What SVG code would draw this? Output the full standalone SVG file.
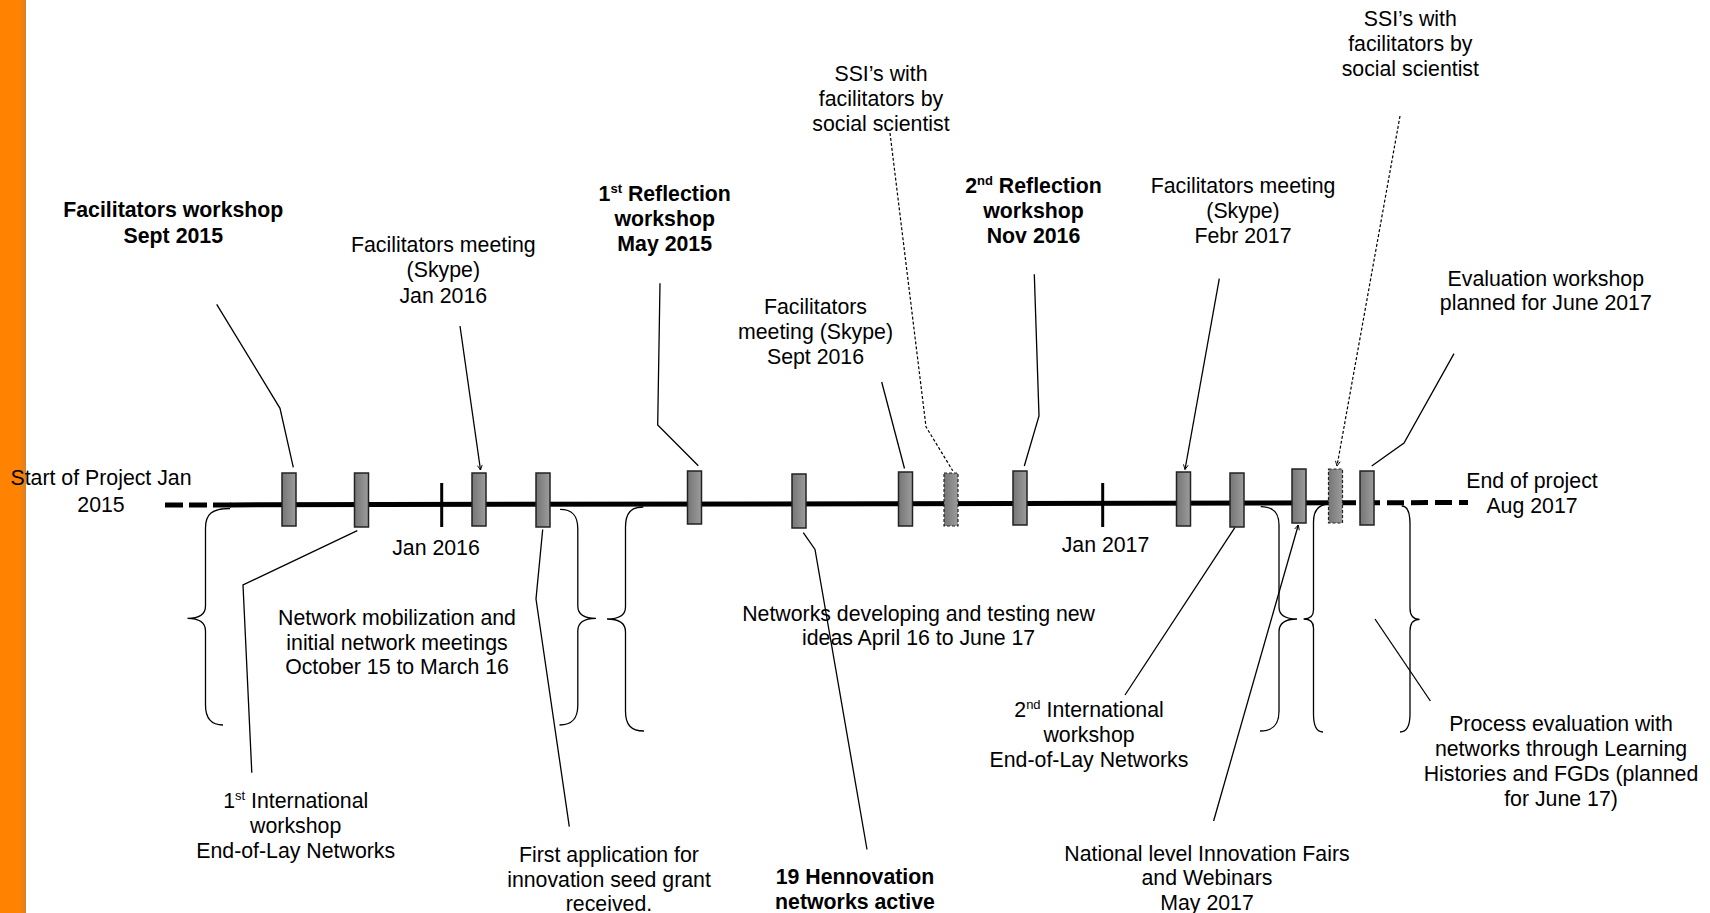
<svg xmlns="http://www.w3.org/2000/svg" width="1710" height="913" viewBox="0 0 1710 913">
<style>
text{font-family:"Liberation Sans",Arial,sans-serif;font-size:21.3px;fill:#000;text-anchor:middle}
.b{font-weight:bold}
.sup{font-size:13px}
.box{fill:url(#g);stroke:#222;stroke-width:1.5}
.dbox{fill:url(#g);stroke:#222;stroke-width:1.2;stroke-dasharray:3 2}
.ld{fill:none;stroke:#000;stroke-width:1.3}
.dl{fill:none;stroke:#000;stroke-width:1.2;stroke-dasharray:3 2}
.br{fill:none;stroke:#000;stroke-width:1.3}
.tl{stroke:#000;stroke-width:5;fill:none}
.tk{stroke:#000;stroke-width:3}
</style>
<defs>
<linearGradient id="g" x1="0" y1="0" x2="1" y2="0">
<stop offset="0" stop-color="#767676"/>
<stop offset="1" stop-color="#9c9c9c"/>
</linearGradient>
<linearGradient id="og" x1="0" y1="0" x2="1" y2="0">
<stop offset="0" stop-color="#ff8200"/>
<stop offset="0.75" stop-color="#ff8200"/>
<stop offset="1" stop-color="#d9812a"/>
</linearGradient>
<marker id="ah" viewBox="0 0 10 10" refX="9" refY="5" markerWidth="6" markerHeight="6" orient="auto" markerUnits="userSpaceOnUse">
<path d="M1,1 L9,5 L1,9" fill="none" stroke="#000" stroke-width="1.5"/>
</marker>
</defs>
<rect x="0" y="0" width="26" height="913" fill="url(#og)"/>

<g id="timeline">
<line class="tl" x1="165" y1="505" x2="231" y2="504.9" stroke-dasharray="18 6"/>
<line class="tl" x1="230" y1="504.9" x2="1340" y2="502.8"/>
<line class="tl" x1="1339" y1="502.8" x2="1468" y2="502.5" stroke-dasharray="17 7"/>
<line class="tk" x1="441.7" y1="483" x2="441.7" y2="527"/>
<line class="tk" x1="1102.7" y1="483" x2="1102.7" y2="527"/>
</g>

<g id="connectors">
<polyline class="ld" points="216.7,304.3 280,408.3 293.3,467.3"/>
<polyline class="ld" points="460,326 480.5,470" marker-end="url(#ah)"/>
<polyline class="ld" points="660,283.3 657.7,425 698.3,465.7"/>
<polyline class="ld" points="881.7,382 904.5,468.5"/>
<polyline class="dl" points="890,133 926,426.8 952.7,470.7"/>
<polyline class="ld" points="1034.3,274.3 1039,416 1024.3,466"/>
<polyline class="ld" points="1219.3,278.6 1185,469.5" marker-end="url(#ah)"/>
<polyline class="dl" points="1400,116 1337,466" marker-end="url(#ah)"/>
<polyline class="ld" points="1454,353.6 1404,443 1371.7,466"/>
<polyline class="ld" points="251.8,772.7 243,585 357.3,530.7"/>
<polyline class="ld" points="569.3,826.7 536,599 542.7,529.5"/>
<polyline class="ld" points="803.3,532.7 815,549.5 867,849.5"/>
<polyline class="ld" points="1125,695 1235,527.3"/>
<polyline class="ld" points="1213.6,821 1298.3,525" marker-end="url(#ah)"/>
<polyline class="ld" points="1375,619 1430.4,701"/>
</g>

<g id="braces">
<path id="brace1" class="br" d="M230,508.5 C212,508.5 205.5,514 205.5,528 L205.5,606 C205.5,614 200,618.3 187.5,618.3 C200,618.3 205.5,623 205.5,631 L205.5,705 C205.5,719 212,725 223,725"/>
<path id="brace2" class="br" d="M560,509.3 C572,509.3 577.8,515 577.8,529 L577.8,606 C577.8,614 583,618.3 596,618.3 C583,618.3 577.8,623 577.8,631 L577.8,705 C577.8,719 572,725 559.5,725"/>
<path id="brace3" class="br" d="M643.3,507 C631,507 625.5,513 625.5,527 L625.5,607 C625.5,615 620,619 607,619 C620,619 625.5,624 625.5,632 L625.5,711 C625.5,725 631,731 644,731"/>
<path id="brace4" class="br" d="M1260.7,506.7 C1273,506.7 1279,512 1279,525 L1279,607 C1279,615 1284,619 1297,619 C1284,619 1279,624 1279,632 L1279,711 C1279,725 1273,731 1260,731"/>
<path id="brace5" class="br" d="M1330,504 C1319,504 1313.5,510 1313.5,522 L1313.5,610 C1313.5,616 1310,619 1303.6,619 C1310,619 1313.5,622 1313.5,628 L1313.5,714 C1313.5,726 1317,732 1323,732"/>
<path id="brace6" class="br" d="M1401.7,506 C1407,506 1410,512 1410,524 L1410,608 C1410,615 1413,619.3 1419.6,619.3 C1413,619.3 1410,624 1410,631 L1410,714 C1410,726 1406,732 1400,732"/>
</g>

<g id="box1"><rect class="box" x="282" y="473" width="14" height="53"/></g>
<g id="box2"><rect class="box" x="354.5" y="473" width="14" height="54"/></g>
<g id="box3"><rect class="box" x="472" y="473" width="14" height="53"/></g>
<g id="box4"><rect class="box" x="536" y="473" width="14" height="54"/></g>
<g id="box5"><rect class="box" x="687.5" y="471" width="14" height="53"/></g>
<g id="box6"><rect class="box" x="792" y="474" width="14" height="54"/></g>
<g id="box7"><rect class="box" x="898.5" y="472" width="14" height="54"/></g>
<g id="box8"><rect class="dbox" x="944" y="473" width="14" height="53"/></g>
<g id="box9"><rect class="box" x="1013" y="471" width="14" height="54"/></g>
<g id="box10"><rect class="box" x="1176.5" y="472" width="14" height="54"/></g>
<g id="box11"><rect class="box" x="1230" y="473" width="14" height="54"/></g>
<g id="box12"><rect class="box" x="1292" y="469" width="14" height="54"/></g>
<g id="box13"><rect class="dbox" x="1328.5" y="469" width="14" height="54"/></g>
<g id="box14"><rect class="box" x="1360" y="471" width="14" height="54"/></g>

<g id="lbl-start"><text x="101" y="485">Start of Project Jan</text><text x="101" y="511.7">2015</text></g>
<g id="lbl-end"><text x="1532" y="487.5">End of project</text><text x="1532" y="512.5">Aug 2017</text></g>
<g id="lbl-jan2016"><text x="436" y="555">Jan 2016</text></g>
<g id="lbl-jan2017"><text x="1105.5" y="552">Jan 2017</text></g>

<g id="lbl-facws"><text class="b" x="173.3" y="216.7">Facilitators workshop</text><text class="b" x="173.3" y="242.7">Sept 2015</text></g>
<g id="lbl-fm2016"><text x="443.3" y="251.7">Facilitators meeting</text><text x="443.3" y="277.3">(Skype)</text><text x="443.3" y="302.7">Jan 2016</text></g>
<g id="lbl-refl1"><text class="b" x="664.7" y="200.7">1<tspan class="sup" dy="-8">st</tspan><tspan dy="8"> Reflection</tspan></text><text class="b" x="664.7" y="225.5">workshop</text><text class="b" x="664.7" y="250.5">May 2015</text></g>
<g id="lbl-fmsept"><text x="815.5" y="314">Facilitators</text><text x="815.5" y="339">meeting (Skype)</text><text x="815.5" y="364">Sept 2016</text></g>
<g id="lbl-ssi1"><text x="881" y="81.4">SSI’s with</text><text x="881" y="106.4">facilitators by</text><text x="881" y="131.4">social scientist</text></g>
<g id="lbl-refl2"><text class="b" x="1033.5" y="192.9">2<tspan class="sup" dy="-8">nd</tspan><tspan dy="8"> Reflection</tspan></text><text class="b" x="1033.5" y="217.9">workshop</text><text class="b" x="1033.5" y="242.9">Nov 2016</text></g>
<g id="lbl-fmfebr"><text x="1243" y="192.9">Facilitators meeting</text><text x="1243" y="217.9">(Skype)</text><text x="1243" y="242.9">Febr 2017</text></g>
<g id="lbl-ssi2"><text x="1410.3" y="25.7">SSI’s with</text><text x="1410.3" y="50.7">facilitators by</text><text x="1410.3" y="75.7">social scientist</text></g>
<g id="lbl-eval"><text x="1545.8" y="285.7">Evaluation workshop</text><text x="1545.8" y="310">planned for June 2017</text></g>

<g id="lbl-mobil"><text x="397" y="625">Network mobilization and</text><text x="397" y="649.5">initial network meetings</text><text x="397" y="674">October 15 to March 16</text></g>
<g id="lbl-dev"><text x="918.6" y="620.7">Networks developing and testing new</text><text x="918.6" y="645">ideas April 16 to June 17</text></g>
<g id="lbl-int1"><text x="295.7" y="807.7">1<tspan class="sup" dy="-8">st</tspan><tspan dy="8"> International</tspan></text><text x="295.7" y="832.7">workshop</text><text x="295.7" y="858">End-of-Lay Networks</text></g>
<g id="lbl-grant"><text x="609" y="862">First application for</text><text x="609" y="887">innovation seed grant</text><text x="609" y="911">received.</text></g>
<g id="lbl-henn"><text class="b" x="855" y="883.5">19 Hennovation</text><text class="b" x="855" y="908.5">networks active</text></g>
<g id="lbl-int2"><text x="1089" y="717">2<tspan class="sup" dy="-8">nd</tspan><tspan dy="8"> International</tspan></text><text x="1089" y="742">workshop</text><text x="1089" y="767">End-of-Lay Networks</text></g>
<g id="lbl-fairs"><text x="1207" y="860.5">National level Innovation Fairs</text><text x="1207" y="885">and Webinars</text><text x="1207" y="909.5">May 2017</text></g>
<g id="lbl-process"><text x="1561" y="731">Process evaluation with</text><text x="1561" y="756">networks through Learning</text><text x="1561" y="781">Histories and FGDs (planned</text><text x="1561" y="806">for June 17)</text></g>
</svg>
